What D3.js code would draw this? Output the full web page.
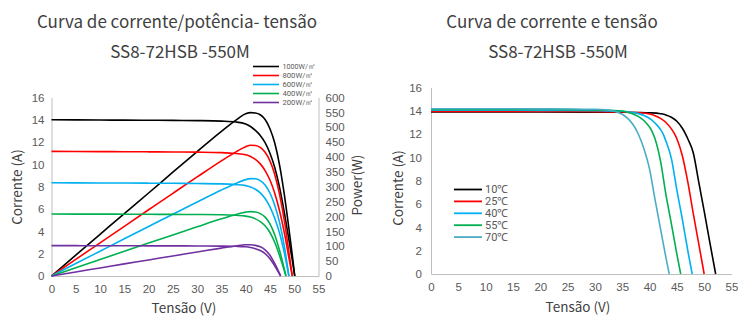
<!DOCTYPE html>
<html><head><meta charset="utf-8">
<script src="https://cdn.jsdelivr.net/npm/d3@7"></script>
<style>
body{margin:0;background:#fff;}
svg{display:block;font-family:"Noto Sans CJK SC","Noto Sans",sans-serif;}
</style></head>
<body><svg id="c" width="738" height="316"></svg>
<script>
// ---------- Data: left chart (irradiance) ----------
const irrLabels = ["1000W/㎡","800W/㎡","600W/㎡","400W/㎡","200W/㎡"];
const v1000 = [0,5,10,15,20,25,30,35,38,40,41,42,43,44,45,46,47,48,49,50,50.1];
const i1000 = [14.00,13.99,13.98,13.97,13.96,13.95,13.93,13.88,13.80,13.62,13.40,13.05,12.60,11.95,11.00,9.70,7.90,5.60,3.00,0.30,0];
const p1000 = [0,70,140,210,279,349,418,486,524,545,549,548,542,526,495,446,371,269,147,15,0];
const v800 = [0,5,10,15,20,25,30,35,38,40,41,42,43,44,45,46,47,48,49,49.6];
const i800 = [11.17,11.16,11.15,11.14,11.13,11.12,11.10,11.06,10.98,10.87,10.72,10.45,10.05,9.45,8.60,7.40,5.80,3.80,1.40,0];
const p800 = [0,55.8,111.5,167.1,222.6,278,333,387.1,417.2,434.8,439.5,438.9,432.2,415.8,387,340.4,272.6,182.4,68.6,0];
const v600 = [0,5,10,15,20,25,30,35,38,40,41,42,43,44,45,46,47,48,48.9];
const i600 = [8.36,8.35,8.34,8.33,8.32,8.31,8.29,8.26,8.19,8.10,7.98,7.78,7.45,6.95,6.20,5.15,3.80,2.00,0];
const p600 = [0,41.8,83.4,125,166.4,207.8,248.7,289.1,311.2,324,327.2,326.8,320.4,305.8,279,236.9,178.6,96,0];
const v400 = [0,5,10,15,20,25,30,35,38,40,41,42,43,44,45,46,47,48.3];
const i400 = [5.56,5.55,5.55,5.54,5.53,5.52,5.51,5.49,5.44,5.37,5.28,5.12,4.88,4.50,3.90,3.00,1.80,0];
const p400 = [0,27.8,55.5,83.1,110.6,138,165.3,192.2,206.7,214.8,216.5,215,209.8,198,175.5,138,84.6,0];
const v200 = [0,5,10,15,20,25,30,35,38,40,41,42,43,44,45,46,47.2];
const i200 = [2.72,2.72,2.71,2.71,2.70,2.70,2.69,2.68,2.66,2.62,2.56,2.45,2.28,2.00,1.55,0.90,0];
const p200 = [0,13.6,27.1,40.7,54,67.5,80.7,93.8,101.1,104.8,105,102.9,98,88,69.8,41.4,0];

// ---------- Data: right chart (temperature) ----------
const tempLabels = ["10℃","25℃","40℃","55℃","70℃"];
const vT10 = [0,10,20,30,35,38,40,42,43,44,45,46,46.6,47,48,49,50,51,52.1];
const iT10 = [13.90,13.90,13.90,13.89,13.88,13.86,13.83,13.75,13.65,13.45,13.10,12.50,12.00,11.60,10.40,7.90,5.40,2.80,0];
const vT25 = [0,10,20,25,30,35,38,40,41,42,43,44,44.6,45,46,47,48,49,50];
const iT25 = [13.95,13.95,13.95,13.94,13.93,13.90,13.84,13.72,13.58,13.35,13.00,12.45,12.00,11.60,10.15,7.90,5.20,2.60,0];
const vT40 = [0,10,20,25,30,35,37,38,39,40,41,42,42.5,43,44,45,46,47,47.8];
const iT40 = [14.05,14.05,14.04,14.04,14.02,13.96,13.86,13.76,13.60,13.35,12.95,12.40,12.00,11.40,9.90,7.20,4.70,2.00,0];
const vT55 = [0,10,20,25,30,33,35,36,37,38,39,40,40.5,41,42,43,44,45,45.7];
const iT55 = [14.12,14.12,14.11,14.10,14.08,14.04,13.98,13.88,13.72,13.50,13.15,12.60,12.20,11.60,9.70,6.80,4.30,1.70,0];
const vT70 = [0,10,20,25,30,32,33,34,35,36,37,38,39,40,41,42,43,43.6];
const iT70 = [14.18,14.18,14.17,14.16,14.13,14.08,14.02,13.90,13.70,13.35,12.80,11.95,10.70,9.00,6.40,3.90,1.40,0];

const xTicks = [0,5,10,15,20,25,30,35,40,45,50,55];
const yTicks = [0,2,4,6,8,10,12,14,16];
const pTicks = [0,50,100,150,200,250,300,350,400,450,500,550,600];

// ---------- styling ----------
const irrColors = ["#000000","#ff0000","#00b0f0","#00b050","#7030a0"];
const tempColors = ["#000000","#ff0000","#00b0f0","#00b050","#4bacc6"];
const textCol = "#595959", axisCol = "#bfbfbf";

const svg = d3.select("#c");
const zip = (v, y) => v.map((d, k) => [d, y[k]]);

function styleAxis(s){
  s.select(".domain").attr("stroke", axisCol);
  s.selectAll("text").attr("fill", textCol).style("font-size","11.5px").style("font-family","inherit");
}
function axes(g, x, y, yTickPos){
  g.append("g").attr("transform", `translate(0,${y.range()[0]})`)
    .call(d3.axisBottom(x).tickValues(xTicks).tickSize(0).tickPadding(9)).call(styleAxis);
  g.append("g").attr("transform", `translate(${x.range()[0]},0)`)
    .call(d3.axisLeft(y).tickValues(yTicks).tickSize(0).tickPadding(yTickPos)).call(styleAxis);
}

// ===== Left chart =====
const xL = d3.scaleLinear().domain([0,55]).range([51.5,318.5]);
const yL = d3.scaleLinear().domain([0,16]).range([276,97.5]);
const pL = d3.scaleLinear().domain([0,600]).range([276,97.5]);
const gL = svg.append("g");
axes(gL, xL, yL, 7);
gL.append("g").attr("transform", `translate(${xL.range()[1]},0)`)
  .call(d3.axisRight(pL).tickValues(pTicks).tickSize(0).tickPadding(7)).call(styleAxis);

const irrSeries = [[v1000,i1000,p1000],[v800,i800,p800],[v600,i600,p600],[v400,i400,p400],[v200,i200,p200]];
const lineI = d3.line().x(d=>xL(d[0])).y(d=>yL(d[1])).curve(d3.curveMonotoneX);
const lineP = d3.line().x(d=>xL(d[0])).y(d=>pL(d[1])).curve(d3.curveMonotoneX);
irrSeries.forEach((s, k) => {
  gL.append("path").attr("d", lineI(zip(s[0], s[1]))).attr("fill","none").attr("stroke", irrColors[k]).attr("stroke-width",1.6);
  gL.append("path").attr("d", lineP(zip(s[0], s[2]))).attr("fill","none").attr("stroke", irrColors[k]).attr("stroke-width",1.6);
});
// legend
irrLabels.forEach((t, k) => {
  const yy = 66.5 + k*9;
  gL.append("line").attr("x1",253).attr("x2",279).attr("y1",yy).attr("y2",yy).attr("stroke", irrColors[k]).attr("stroke-width",1.6);
  gL.append("text").attr("x",282.5).attr("y",yy).attr("dy","0.36em").attr("fill",textCol)
    .style("font-family","Roboto, sans-serif").style("font-size","7.6px")
    .attr("textLength", k===0 ? 33 : 31).attr("lengthAdjust","spacingAndGlyphs").text(t);
});
gL.append("text").attr("x",177).attr("y",28).attr("text-anchor","middle").attr("fill","#404040").style("font-size","17px").text("Curva de corrente/potência- tensão");
gL.append("text").attr("x",180).attr("y",58).attr("text-anchor","middle").attr("fill","#404040").style("font-size","17px").text("SS8-72HSB -550M");
gL.append("text").attr("x",184).attr("y",313).attr("text-anchor","middle").attr("fill","#404040").style("font-size","13.5px").text("Tensão (V)");
gL.append("text").attr("transform","translate(22,187) rotate(-90)").attr("text-anchor","middle").attr("fill","#404040").style("font-size","13.5px").text("Corrente (A)");
gL.append("text").attr("transform","translate(362,185) rotate(-90)").attr("text-anchor","middle").attr("fill","#404040").style("font-size","13.5px").text("Power(W)");

// ===== Right chart =====
const xR = d3.scaleLinear().domain([0,55]).range([431,731.5]);
const yR = d3.scaleLinear().domain([0,16]).range([274,87.5]);
const gR = svg.append("g");
axes(gR, xR, yR, 9);
const tempSeries = [[vT10,iT10],[vT25,iT25],[vT40,iT40],[vT55,iT55],[vT70,iT70]];
const lineR = d3.line().x(d=>xR(d[0])).y(d=>yR(d[1])).curve(d3.curveMonotoneX);
tempSeries.forEach((s, k) => {
  gR.append("path").attr("d", lineR(zip(s[0], s[1]))).attr("fill","none").attr("stroke", tempColors[k]).attr("stroke-width",1.6);
});
tempLabels.forEach((t, k) => {
  const yy = 189.5 + k*11.9;
  gR.append("line").attr("x1",454).attr("x2",482).attr("y1",yy).attr("y2",yy).attr("stroke", tempColors[k]).attr("stroke-width",1.8);
  gR.append("text").attr("x",485).attr("y",yy).attr("dy","0.36em").attr("fill",textCol)
    .style("font-family","Roboto, sans-serif").style("font-size","11px").text(t);
});
gR.append("text").attr("x",552).attr("y",28).attr("text-anchor","middle").attr("fill","#404040").style("font-size","17px").text("Curva de corrente e tensão");
gR.append("text").attr("x",558).attr("y",58).attr("text-anchor","middle").attr("fill","#404040").style("font-size","17px").text("SS8-72HSB -550M");
gR.append("text").attr("x",578).attr("y",312).attr("text-anchor","middle").attr("fill","#404040").style("font-size","13.5px").text("Tensão (V)");
gR.append("text").attr("transform","translate(403,188) rotate(-90)").attr("text-anchor","middle").attr("fill","#404040").style("font-size","13.5px").text("Corrente (A)");
</script></body></html>
